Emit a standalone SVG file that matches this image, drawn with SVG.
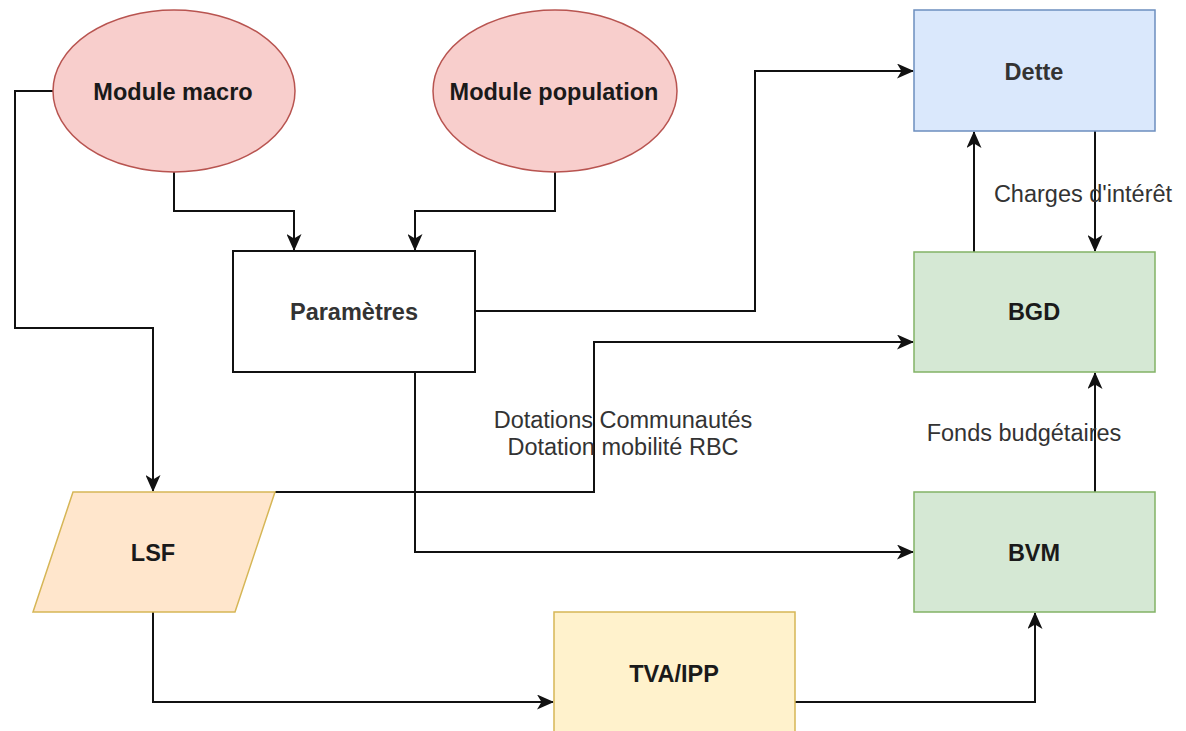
<svg xmlns="http://www.w3.org/2000/svg" width="1186" height="731" viewBox="0 0 1186 731">
<style>
.lbl{font-family:"Liberation Sans",Arial,sans-serif;font-size:23.5px;fill:#1a1a1a;text-anchor:middle}
.b{font-weight:bold}
.edge{fill:none;stroke:#111;stroke-width:2}
.elabel{font-family:"Liberation Sans",Arial,sans-serif;font-size:23.5px;fill:#333;text-anchor:middle}
.red{fill:#f8cecc;stroke:#b85450;stroke-width:1.5}
.blue{fill:#dae8fc;stroke:#6c8ebf;stroke-width:1.5}
.green{fill:#d5e8d4;stroke:#82b366;stroke-width:1.5}
.orange{fill:#ffe6cc;stroke:#d6b656;stroke-width:1.5}
.yellow{fill:#fff2cc;stroke:#d6b656;stroke-width:1.5}
</style>
<defs>
<marker id="arr" markerUnits="userSpaceOnUse" markerWidth="17" markerHeight="15" viewBox="0 0 17 15" refX="16" refY="7.5" orient="auto">
<path d="M0,0 L17,7.5 L0,15 L4.5,7.5 Z" fill="#111"/>
</marker>
</defs>
<rect width="1186" height="731" fill="#fff"/>
<g id="connectors">
<path class="edge" d="M53,91 H15 V328 H153 V491" marker-end="url(#arr)"/>
<path class="edge" d="M174,172 V211 H294 V250" marker-end="url(#arr)"/>
<path class="edge" d="M555,172 V211 H415 V250" marker-end="url(#arr)"/>
<path class="edge" d="M475,311 H755 V71 H913" marker-end="url(#arr)"/>
<path class="edge" d="M415,372 V552 H913" marker-end="url(#arr)"/>
<path class="edge" d="M275,492 H594 V342 H913" marker-end="url(#arr)"/>
<path class="edge" d="M153,612 V702 H553" marker-end="url(#arr)"/>
<path class="edge" d="M795,702 H1035 V613" marker-end="url(#arr)"/>
<path class="edge" d="M1095,492 V373" marker-end="url(#arr)"/>
<path class="edge" d="M974,252 V132" marker-end="url(#arr)"/>
<path class="edge" d="M1095,131 V251" marker-end="url(#arr)"/>
<text class="elabel" x="623" y="428">Dotations Communautés</text>
<text class="elabel" x="623" y="455">Dotation mobilité RBC</text>
<text class="elabel" x="1083" y="202">Charges d'intérêt</text>
<text class="elabel" x="1024" y="441">Fonds budgétaires</text>
</g>
<g id="module-macro">
<ellipse class="red" cx="174" cy="91" rx="121" ry="81"/>
<text class="lbl b" x="173" y="100">Module macro</text>
</g>
<g id="module-population">
<ellipse class="red" cx="555" cy="91" rx="122" ry="81"/>
<text class="lbl b" x="554" y="100">Module population</text>
</g>
<g id="parametres">
<rect x="233" y="251" width="242" height="121" fill="#fff" stroke="#111" stroke-width="2"/>
<text class="lbl b" x="354" y="320" style="fill:#333">Paramètres</text>
</g>
<g id="dette">
<rect class="blue" x="914" y="10" width="241" height="121"/>
<text class="lbl b" x="1034" y="80" style="fill:#333">Dette</text>
</g>
<g id="bgd">
<rect class="green" x="914" y="252" width="241" height="120"/>
<text class="lbl b" x="1034" y="320">BGD</text>
</g>
<g id="bvm">
<rect class="green" x="914" y="492" width="241" height="120"/>
<text class="lbl b" x="1034" y="561">BVM</text>
</g>
<g id="lsf">
<polygon class="orange" points="73,492 275,492 235,612 33,612"/>
<text class="lbl b" x="153" y="561">LSF</text>
</g>
<g id="tva-ipp">
<rect class="yellow" x="554" y="612" width="241" height="125"/>
<text class="lbl b" x="674" y="682">TVA/IPP</text>
</g>
</svg>
